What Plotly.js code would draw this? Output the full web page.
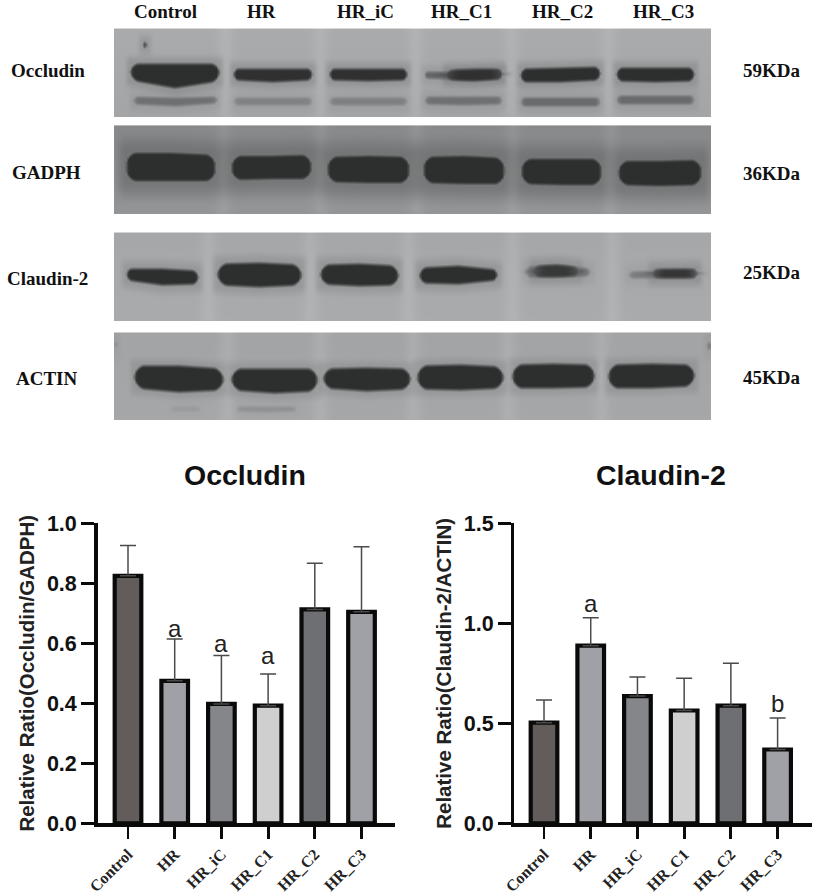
<!DOCTYPE html>
<html><head><meta charset="utf-8">
<script src="https://cdn.plot.ly/plotly-3.0.1.min.js"></script>
<style>html,body{margin:0;padding:0;background:#fff}</style></head>
<body><div id="chart" style="width:821px;height:894px"></div>
<script>
// ---- bar chart data ----
const groups = ['Control','HR','HR_iC','HR_C1','HR_C2','HR_C3'];
const occludinMean = [0.825,0.475,0.398,0.392,0.713,0.705];
const occludinTop  = [0.926,0.614,0.559,0.498,0.867,0.922];
const claudinMean  = [0.503,0.888,0.636,0.564,0.588,0.369];
const claudinTop   = [0.617,1.028,0.732,0.725,0.800,0.527];
const barColors = ['#625d5a','#a0a1a6','#85868a','#cfcfcf','#6e6f72','#a0a1a6'];
const occludinMarks = [['HR',0.65,'a'],['HR_iC',0.60,'a'],['HR_C1',0.561,'a']];
const claudinMarks  = [['HR',1.10,'a'],['HR_C3',0.597,'b']];

// ---- blot bands: [left,right, top(l,m,r), bottom(l,m,r), darkness, edge softness] ----
const occludinBands = [
 [130,219,63,63,63,80,88,81,1],[233,312,68,68,68,80,82,80,.98],[329,407,68,68,68,80,81,80,.98],
 [424,502,71,71,69,78,80,79,.55],[446,502,69,68,68,80,81,79,.95,14],[520,600,68,67,66,82,82,80,1],[616,694,67,67,67,81,82,81,1],
 [133,217,96,97,96,104,106,103,.45,6],[233,312,97,97,97,105,105,105,.3,6],[329,407,97,97,97,105,105,105,.32,6],
 [424,502,96,96,96,104,105,104,.45,6],[520,600,97,97,97,106,106,106,.5,6],[616,694,95,95,95,104,104,104,.5,6],
 [142,147,41,41,41,48,48,48,.75]];
const gadphBands = [
 [126,215,152,152,154,181,181,181,1],[231,311,155,155,154,180,179,179,1],[327,409,156,155,156,182,183,183,1],
 [423,504,156,155,157,183,184,184,1],[521,601,158,158,158,184,185,185,1],[618,701,160,160,159,185,186,185,1]];
const claudinBands = [
 [126,198,268,268,270,280,285,284,1],[217,301,263,262,264,285,287,285,1],[320,398,264,263,265,284,286,285,1],
 [419,497,267,265,269,283,284,280,1],[525,590,266,264,268,277,277,276,.45,8],[533,578,265,264,266,277,277,276,.85,14],
 [628,697,271,270,268,278,278,278,.38,8],[652,697,268,268,268,278,278,278,.9,14]];
const actinBands = [
 [134,223,365,365,368,388,392,390,1],[231,317,368,368,368,390,393,391,1],[323,410,368,367,368,388,391,389,1],
 [417,503,365,364,366,389,390,388,1],[512,594,364,363,364,388,388,387,1],[608,694,364,363,364,388,388,386,1],
 [236,296,406,406,406,411,412,411,.18,6],[170,200,406,406,406,411,411,411,.1,6],[707,711,338,338,338,353,353,353,.4],[114,116,336,336,336,352,352,352,.35]];
const panelBox = {occludin:[28,117],gadph:[125,214],claudin:[232,321],actin:[332,420]};
const panelBase = {occludin:[172,166],gadph:[138,150],claudin:[168,172],actin:[165,168]};
const panelGaps = {occludin:[225,320,415,511,608],gadph:[223,320,416,512,610],claudin:[208,310,408,512,612],actin:[227,320,413,508,601]};
const panelHalo = {occludin:[6,.16],gadph:[13,.26],claudin:[7,.14],actin:[6,.12]};
const panelLeft = 114, panelRight = 711;

const W=821,H=894;
function sm(d,s){const t=Math.max(0,Math.min(1,(d+s)/(2*s)));return t*t*(3-2*t);}
function mid3(a,b,c,u){return u<.5?a+(b-a)*u*2:b+(c-b)*(u-.5)*2;}
function blot(name,bands,xa,ya){
  const [y0,y1]=panelBox[name],[b0,b1]=panelBase[name],gaps=panelGaps[name],[hs,hk]=panelHalo[name];
  const xs=[],ys=[],z=[];
  for(let x=panelLeft;x<=panelRight;x+=2)xs.push(x);
  for(let y=y0;y<=y1;y+=1)ys.push(y);
  for(const y of ys){
    const row=[];
    for(const x of xs){
      let v=b0+(b1-b0)*(y-y0)/(y1-y0);
      for(const g of gaps){const d=(x-g)/8;v+=8*Math.exp(-d*d);}
      let keep=1;
      for(const b of bands){
        const [l,r,t0,t1,t2,o0,o1,o2,k,soft]=b;
        if(x<l-24||x>r+24)continue;
        const u=Math.max(0,Math.min(1,(x-l)/(r-l)));
        const top=mid3(t0,t1,t2,u),bot=mid3(o0,o1,o2,u);
        const e=Math.min(x-l,r-x);
        const rr=Math.min(10,(bot-top)*.45);
        const q=e<rr?(rr-Math.max(e,0))/rr:0;
        const round=q*q*rr*.8;
        const a=sm(y-top-round,3)*sm(bot-y-round,3)*sm(e,soft||3);
        const halo=sm(y-top+hs,hs)*sm(bot-y+hs,hs)*sm(e+hs*.6,hs*.6)*hk;
        keep*=1-Math.max(a*k,halo*k);
      }
      let g=46+(v-46)*keep;
      if(y-y0<1||y1-y<1)g=Math.min(225,g+45);
      row.push(g);
    }
    z.push(row);
  }
  return {type:'heatmap',x:xs,y:ys,z:z,xaxis:xa,yaxis:ya,zmin:0,zmax:255,zsmooth:'best',showscale:false,hoverinfo:'skip',
    colorscale:[[0,'#000000'],[1,'#fbfdff']]};
}
function barTrace(vals,tops,xa,ya){
  return {type:'bar',x:groups,y:vals,xaxis:xa,yaxis:ya,width:0.57,showlegend:false,
    marker:{color:barColors,line:{color:'#0a0a0a',width:4.2}},
    error_y:{type:'data',symmetric:false,array:tops.map((t,i)=>t-vals[i]),arrayminus:vals.map(()=>0),color:'#4a4a4a',thickness:1.5,width:8}};
}
const data=[
  blot('occludin',occludinBands,'x3','y3'),blot('gadph',gadphBands,'x4','y4'),
  blot('claudin',claudinBands,'x5','y5'),blot('actin',actinBands,'x6','y6'),
  barTrace(occludinMean,occludinTop,'x','y'),barTrace(claudinMean,claudinTop,'x2','y2')];

const sans='"Liberation Sans",Arial,sans-serif',serif='"Liberation Serif","Times New Roman",serif';
function xAxis(x0,x1,lo,hi){return {domain:[x0/W,x1/W],range:[lo,hi],type:'category',categoryorder:'array',categoryarray:groups,
  showline:true,linecolor:'#0a0a0a',linewidth:3.4,ticks:'outside',ticklen:12,tickwidth:2.8,tickcolor:'#0a0a0a',tickangle:-45,
  tickfont:{family:serif,size:16,color:'#222',weight:700},showgrid:false,zeroline:false,automargin:false,fixedrange:true};}
function yAxis(rangeTop,dt,title,anchor){return {domain:[1-823.3/H,1-523.3/H],range:[0,rangeTop],dtick:dt,tick0:0,tickformat:'.1f',anchor:anchor,
  showline:true,linecolor:'#0a0a0a',linewidth:3.4,ticks:'outside',ticklen:13,tickwidth:2.8,tickcolor:'#0a0a0a',
  tickfont:{family:sans,size:21.5,color:'#111',weight:700},showgrid:false,zeroline:false,automargin:false,fixedrange:true,
  title:{text:title,standoff:7,font:{family:sans,size:20.5,color:'#222',weight:700}}};}
const layout={width:W,height:H,margin:{l:0,r:0,t:0,b:0},paper_bgcolor:'#fff',plot_bgcolor:'#fff',showlegend:false,bargap:0.4,
  xaxis:xAxis(97.5,395,-0.653,5.717),yaxis:yAxis(1,0.2,'Relative Ratio(Occludin/GADPH)','x'),
  xaxis2:xAxis(514.3,811.7,-0.636,5.73),yaxis2:yAxis(1.5,0.5,'Relative Ratio(Claudin-2/ACTIN)','x2'),annotations:[]};
layout.xaxis2.anchor='y2';
[['3','occludin'],['4','gadph'],['5','claudin'],['6','actin']].forEach(([n,p])=>{
  const [a,b]=panelBox[p];
  layout['xaxis'+n]={domain:[panelLeft/W,panelRight/W],range:[panelLeft,panelRight],visible:false,anchor:'y'+n,fixedrange:true};
  layout['yaxis'+n]={domain:[1-b/H,1-a/H],range:[b,a],visible:false,anchor:'x'+n,fixedrange:true};
});
function pageText(t,x,y,font,size,color){layout.annotations.push({text:t,xref:'paper',yref:'paper',x:x/W,y:1-y/H,xanchor:'center',yanchor:'middle',showarrow:false,
  font:{family:font,size:size,color:color||'#111',weight:700}});}
[[ 'Control',165],['HR',261],['HR_iC',365],['HR_C1',461],['HR_C2',562],['HR_C3',663]].forEach(([t,x])=>pageText(t,x,12,serif,19));
[['Occludin',48,71],['GADPH',46,172],['Claudin-2',47,278],['ACTIN',47,379]].forEach(([t,x,y])=>pageText(t,x,y,serif,19));
[['59KDa',772,71],['36KDa',772,173],['25KDa',772,273],['45KDa',772,378]].forEach(([t,x,y])=>pageText(t,x,y,serif,19));
pageText('Occludin',245,475,sans,28.5);
pageText('Claudin-2',660.7,475,sans,28.5);
function marks(list,xa,ya){list.forEach(([g,v,t])=>layout.annotations.push({text:t,x:g,y:v,xref:xa,yref:ya,showarrow:false,xanchor:'center',yanchor:'middle',
  font:{family:sans,size:24,color:'#222'}}));}
marks(occludinMarks,'x','y');marks(claudinMarks,'x2','y2');
Plotly.newPlot('chart',data,layout,{displayModeBar:false,staticPlot:true});
</script></body></html>
